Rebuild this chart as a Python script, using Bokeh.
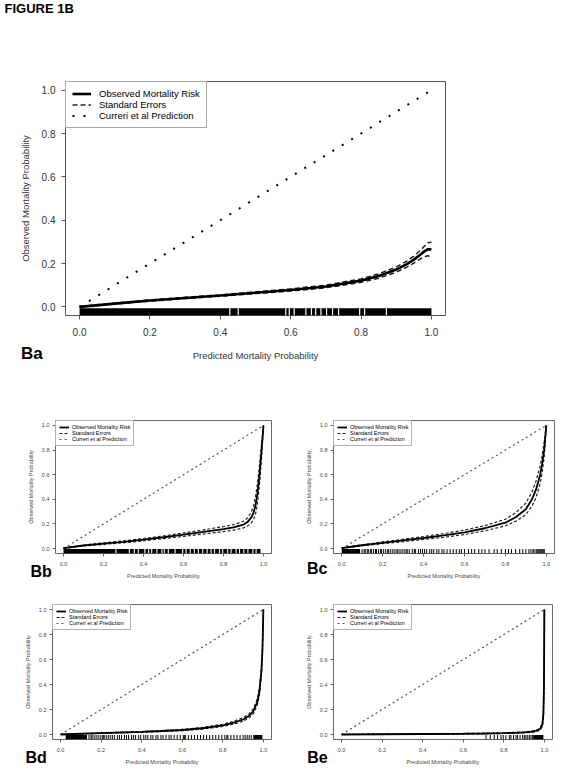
from bokeh.plotting import figure
from bokeh.models import Range1d, FixedTicker, NumeralTickFormatter, Legend, LegendItem, Label
from bokeh.layouts import column, row
from bokeh.embed import file_html
from bokeh.resources import INLINE

FONT = "Liberation Sans"

# ---------------- data ----------------
figure_title = "FIGURE 1B"
axis_ticks = [0.0, 0.2, 0.4, 0.6, 0.8, 1.0]
series_names = ["Observed Mortality Risk", "Standard Errors", "Curreri et al Prediction"]
x_title = "Predicted Mortality Probability"
y_title = "Observed Mortality Probability"
curreri_x = [0.0, 1.0]
curreri_y = [0.0, 1.0]

# Ba
ba_x = [0.0, 0.1, 0.2, 0.3, 0.4, 0.5, 0.6, 0.7, 0.8, 0.85, 0.9, 0.93, 0.95, 0.97, 0.98, 0.99, 1.0]
ba_obs = [0.0, 0.015, 0.029, 0.041, 0.052, 0.065, 0.078, 0.094, 0.121, 0.142, 0.172, 0.197, 0.218, 0.243, 0.256, 0.266, 0.265]
ba_upper = [0.001, 0.017, 0.032, 0.044, 0.055, 0.069, 0.083, 0.100, 0.129, 0.152, 0.184, 0.211, 0.234, 0.263, 0.280, 0.296, 0.298]
ba_lower = [-0.001, 0.013, 0.026, 0.038, 0.049, 0.061, 0.073, 0.088, 0.113, 0.132, 0.160, 0.183, 0.202, 0.223, 0.232, 0.236, 0.232]
ba_rug_start = [0.0]
ba_rug_end = [1.0]
ba_rug_ticks = []
ba_rug_gaps = [0.427, 0.451, 0.586, 0.596, 0.610, 0.643, 0.659, 0.671, 0.686, 0.702, 0.719, 0.736, 0.796, 0.810, 0.872]

# Bb
bb_x = [0.0, 0.1, 0.2, 0.3, 0.4, 0.5, 0.6, 0.7, 0.8, 0.85, 0.9, 0.92, 0.94, 0.95, 0.96, 0.97, 0.98, 0.99, 1.0]
bb_obs = [0.003, 0.025, 0.040, 0.055, 0.072, 0.092, 0.113, 0.135, 0.158, 0.172, 0.195, 0.215, 0.255, 0.29, 0.35, 0.45, 0.60, 0.79, 1.0]
bb_upper = [0.005, 0.029, 0.046, 0.063, 0.081, 0.103, 0.127, 0.152, 0.178, 0.194, 0.222, 0.248, 0.30, 0.345, 0.42, 0.53, 0.68, 0.85, 1.0]
bb_lower = [0.001, 0.021, 0.034, 0.047, 0.063, 0.081, 0.099, 0.118, 0.138, 0.150, 0.168, 0.182, 0.21, 0.235, 0.28, 0.37, 0.52, 0.73, 1.0]
bb_rug_start = [0.0]
bb_rug_end = [0.985]
bb_rug_ticks = []
bb_rug_gaps = [0.262, 0.329, 0.354, 0.374, 0.407, 0.426, 0.441, 0.467, 0.492, 0.504, 0.524, 0.558,
               0.596, 0.613, 0.634, 0.654, 0.674, 0.696, 0.718, 0.738, 0.755, 0.780, 0.796, 0.821,
               0.838, 0.863, 0.880, 0.902, 0.922, 0.947, 0.963]

# Bc
bc_x = [0.0, 0.1, 0.2, 0.3, 0.4, 0.5, 0.6, 0.7, 0.8, 0.85, 0.9, 0.93, 0.95, 0.97, 0.98, 0.99, 1.0]
bc_obs = [0.004, 0.027, 0.047, 0.066, 0.086, 0.107, 0.132, 0.165, 0.21, 0.255, 0.32, 0.40, 0.48, 0.60, 0.69, 0.81, 1.0]
bc_upper = [0.006, 0.031, 0.054, 0.076, 0.098, 0.122, 0.150, 0.186, 0.238, 0.29, 0.37, 0.46, 0.55, 0.67, 0.76, 0.87, 1.0]
bc_lower = [0.002, 0.023, 0.040, 0.056, 0.074, 0.092, 0.114, 0.144, 0.185, 0.222, 0.275, 0.345, 0.415, 0.53, 0.62, 0.75, 1.0]
bc_rug_start = [0.0]
bc_rug_end = [0.09]
bc_rug_ticks = [0.10, 0.11, 0.115, 0.125, 0.13, 0.14, 0.145, 0.155, 0.165, 0.17, 0.18, 0.19, 0.195, 0.205,
                0.215, 0.225, 0.23, 0.24, 0.25, 0.26, 0.27, 0.275, 0.285, 0.295, 0.305, 0.315, 0.32, 0.33,
                0.345, 0.355, 0.36, 0.375, 0.385, 0.395, 0.405, 0.415, 0.43, 0.44, 0.45, 0.465, 0.475,
                0.49, 0.50, 0.515, 0.53, 0.545, 0.56, 0.575, 0.585, 0.60, 0.62, 0.635, 0.65, 0.67, 0.685,
                0.70, 0.72, 0.745, 0.76, 0.78, 0.80, 0.815, 0.83, 0.85, 0.87, 0.885, 0.90, 0.915, 0.925,
                0.935, 0.94, 0.95, 0.955, 0.96, 0.965, 0.97, 0.975, 0.98, 0.985, 0.99]
bc_rug_gaps = []

# Bd
bd_x = [0.0, 0.1, 0.2, 0.3, 0.4, 0.5, 0.6, 0.7, 0.8, 0.85, 0.9, 0.93, 0.95, 0.97, 0.98, 0.99, 0.995, 1.0]
bd_obs = [0.0, 0.006, 0.011, 0.016, 0.021, 0.028, 0.036, 0.05, 0.073, 0.093, 0.12, 0.15, 0.185, 0.26, 0.34, 0.50, 0.66, 1.0]
bd_upper = [0.0, 0.007, 0.013, 0.018, 0.024, 0.032, 0.041, 0.057, 0.082, 0.104, 0.134, 0.167, 0.205, 0.285, 0.37, 0.53, 0.69, 1.0]
bd_lower = [0.0, 0.005, 0.009, 0.014, 0.018, 0.024, 0.031, 0.043, 0.064, 0.082, 0.106, 0.133, 0.165, 0.235, 0.31, 0.47, 0.63, 1.0]
bd_rug_start = [0.025, 0.95]
bd_rug_end = [0.13, 0.995]
bd_rug_ticks = [0.14, 0.15, 0.155, 0.165, 0.175, 0.185, 0.195, 0.205, 0.21, 0.215, 0.225, 0.235, 0.245,
                0.255, 0.265, 0.28, 0.29, 0.30, 0.315, 0.325, 0.335, 0.35, 0.36, 0.37, 0.385, 0.395, 0.41,
                0.42, 0.43, 0.445, 0.455, 0.47, 0.48, 0.495, 0.505, 0.52, 0.535, 0.545, 0.56, 0.575, 0.59,
                0.605, 0.61, 0.615, 0.63, 0.645, 0.66, 0.675, 0.69, 0.705, 0.72, 0.735, 0.75, 0.765, 0.78,
                0.795, 0.81, 0.82, 0.825, 0.84, 0.855, 0.87, 0.885, 0.90, 0.91, 0.92, 0.93, 0.94]
bd_rug_gaps = []

# Be
be_x = [0.0, 0.2, 0.4, 0.6, 0.7, 0.8, 0.85, 0.9, 0.93, 0.95, 0.97, 0.98, 0.99, 0.995, 0.998, 1.0]
be_obs = [0.0, 0.002, 0.004, 0.006, 0.008, 0.011, 0.013, 0.017, 0.021, 0.026, 0.035, 0.047, 0.08, 0.16, 0.40, 1.0]
be_upper = [0.0, 0.003, 0.006, 0.008, 0.011, 0.014, 0.017, 0.021, 0.026, 0.032, 0.042, 0.056, 0.095, 0.20, 0.48, 1.0]
be_lower = [0.0, 0.001, 0.002, 0.004, 0.005, 0.008, 0.009, 0.013, 0.016, 0.020, 0.028, 0.038, 0.065, 0.12, 0.32, 1.0]
be_rug_start = [0.945]
be_rug_end = [0.995]
be_rug_ticks = [0.712, 0.733, 0.753, 0.769, 0.786, 0.797, 0.81, 0.827, 0.835, 0.848, 0.86, 0.868, 0.88,
                0.893, 0.901, 0.909, 0.918, 0.926, 0.934, 0.942]
be_rug_gaps = []

# ---------------- styles / geometry ----------------
big_style = dict(frame="#555555", text="#333333", tick=4, tick_font="10px", title_font="9.5px",
                 xls=8, yls=6, xts=11, yts=8, obs_w=2.6, se_w=1.5, se_dash="5 3", se_color="#222222",
                 diag_w=2, diag_dash="2 9", diag_color="black", lpad=6, gw=19, gh=11, lso=8,
                 leg_font="9.5px", panel_font="17px", rug_bottom=-0.04, rug_top=-0.007,
                 rug_w=1, gap_w=1.2)
small_style = dict(frame="#666666", text="#444444", tick=3, tick_font="5.5px", title_font="5.5px",
                   xls=5, yls=3, xts=4, yts=5, obs_w=1.8, se_w=1.2, se_dash="3 2", se_color="#222222",
                   diag_w=1.2, diag_dash="2 3", diag_color="#555555", lpad=3, gw=10, gh=6, lso=3,
                   leg_font="5.5px", panel_font="16px", rug_bottom=-0.04, rug_top=-0.004,
                   rug_w=1, gap_w=1.1)

geo_ba = dict(w=561, h=395, bl=65, br=116, bt=81, bb=80, lx=-44.5, ly=-38)
geo_bb = dict(w=293, h=188, bl=55, br=22, bt=25, bb=29, lx=-25, ly=-17.7)
geo_bc = dict(w=268, h=188, bl=40, br=7, bt=22, bb=30, lx=-26.6, ly=-15)
geo_bd = dict(w=293, h=187, bl=52, br=22, bt=21, bb=31, lx=-27, ly=-17.7)
geo_be = dict(w=268, h=187, bl=40, br=9, bt=21, bb=31, lx=-26.3, ly=-17.7)


def build_panel(name, xs, obs, upper, lower, rug_start, rug_end, rug_ticks, rug_gaps, g, s):
    p = figure(width=g["w"], height=g["h"],
               x_range=Range1d(-0.04, 1.04), y_range=Range1d(-0.04, 1.04),
               output_backend="svg", toolbar_location=None,
               min_border_left=g["bl"], min_border_right=g["br"],
               min_border_top=g["bt"], min_border_bottom=g["bb"])
    p.grid.visible = False
    p.outline_line_color = s["frame"]
    p.outline_line_width = 1
    p.background_fill_color = "white"
    p.border_fill_color = "white"
    for ax in (p.xaxis[0], p.yaxis[0]):
        ax.ticker = FixedTicker(ticks=axis_ticks, minor_ticks=[])
        ax.formatter = NumeralTickFormatter(format="0.0")
        ax.axis_line_color = None
        ax.major_tick_in = 0
        ax.major_tick_out = s["tick"]
        ax.major_tick_line_color = s["frame"]
        ax.minor_tick_line_color = None
        ax.major_label_text_font = FONT
        ax.major_label_text_font_size = s["tick_font"]
        ax.major_label_text_color = s["text"]
        ax.axis_label_text_font = FONT
        ax.axis_label_text_font_size = s["title_font"]
        ax.axis_label_text_font_style = "normal"
        ax.axis_label_text_color = s["text"]
    p.xaxis.axis_label = x_title
    p.yaxis.axis_label = y_title
    p.xaxis.major_label_standoff = s["xls"]
    p.yaxis.major_label_standoff = s["yls"]
    p.xaxis.axis_label_standoff = s["xts"]
    p.yaxis.axis_label_standoff = s["yts"]

    # rug
    if rug_start:
        p.quad(left=rug_start, right=rug_end, bottom=s["rug_bottom"], top=s["rug_top"],
               fill_color="black", line_color=None)
    if rug_ticks:
        p.segment(x0=rug_ticks, x1=rug_ticks, y0=s["rug_bottom"], y1=s["rug_top"],
                  line_color="black", line_width=s["rug_w"])
    if rug_gaps:
        p.segment(x0=rug_gaps, x1=rug_gaps, y0=s["rug_bottom"], y1=s["rug_top"],
                  line_color="white", line_width=s["gap_w"])

    r_diag = p.line(curreri_x, curreri_y, line_color=s["diag_color"], line_width=s["diag_w"],
                    line_dash=s["diag_dash"])
    r_up = p.line(xs, upper, line_color=s["se_color"], line_width=s["se_w"], line_dash=s["se_dash"])
    p.line(xs, lower, line_color=s["se_color"], line_width=s["se_w"], line_dash=s["se_dash"])
    r_obs = p.line(xs, obs, line_color="black", line_width=s["obs_w"])

    leg = Legend(items=[LegendItem(label=series_names[0], renderers=[r_obs]),
                        LegendItem(label=series_names[1], renderers=[r_up]),
                        LegendItem(label=series_names[2], renderers=[r_diag])],
                 location="top_left", margin=0, padding=s["lpad"], spacing=0,
                 glyph_width=s["gw"], glyph_height=s["gh"], label_height=s["gh"],
                 label_standoff=s["lso"], label_text_font=FONT,
                 label_text_font_size=s["leg_font"], label_text_color="black",
                 border_line_color=s["frame"], border_line_width=1,
                 background_fill_color="white", background_fill_alpha=1.0)
    p.add_layout(leg)

    # panel letter: placed in a side panel so that it is not clipped to the frame
    p.add_layout(Label(x=-0.04, y=-0.04, x_offset=g["lx"], y_offset=g["ly"], text=name,
                       text_font=FONT, text_font_style="bold", text_font_size=s["panel_font"],
                       text_baseline="middle", text_align="left", text_color="black"), "above")
    return p


p_ba = build_panel("Ba", ba_x, ba_obs, ba_upper, ba_lower, ba_rug_start, ba_rug_end,
                   ba_rug_ticks, ba_rug_gaps, geo_ba, big_style)
p_ba.add_layout(Label(x=-0.04, y=1.04, x_offset=-61, y_offset=73, text=figure_title,
                      text_font=FONT, text_font_style="bold", text_font_size="13px",
                      text_baseline="middle", text_align="left", text_color="black"), "above")
p_bb = build_panel("Bb", bb_x, bb_obs, bb_upper, bb_lower, bb_rug_start, bb_rug_end,
                   bb_rug_ticks, bb_rug_gaps, geo_bb, small_style)
p_bc = build_panel("Bc", bc_x, bc_obs, bc_upper, bc_lower, bc_rug_start, bc_rug_end,
                   bc_rug_ticks, bc_rug_gaps, geo_bc, small_style)
p_bd = build_panel("Bd", bd_x, bd_obs, bd_upper, bd_lower, bd_rug_start, bd_rug_end,
                   bd_rug_ticks, bd_rug_gaps, geo_bd, small_style)
p_be = build_panel("Be", be_x, be_obs, be_upper, be_lower, be_rug_start, be_rug_end,
                   be_rug_ticks, be_rug_gaps, geo_be, small_style)

layout = column(p_ba, row(p_bb, p_bc), row(p_bd, p_be))

open("out.html", "w").write(file_html(layout, INLINE))
